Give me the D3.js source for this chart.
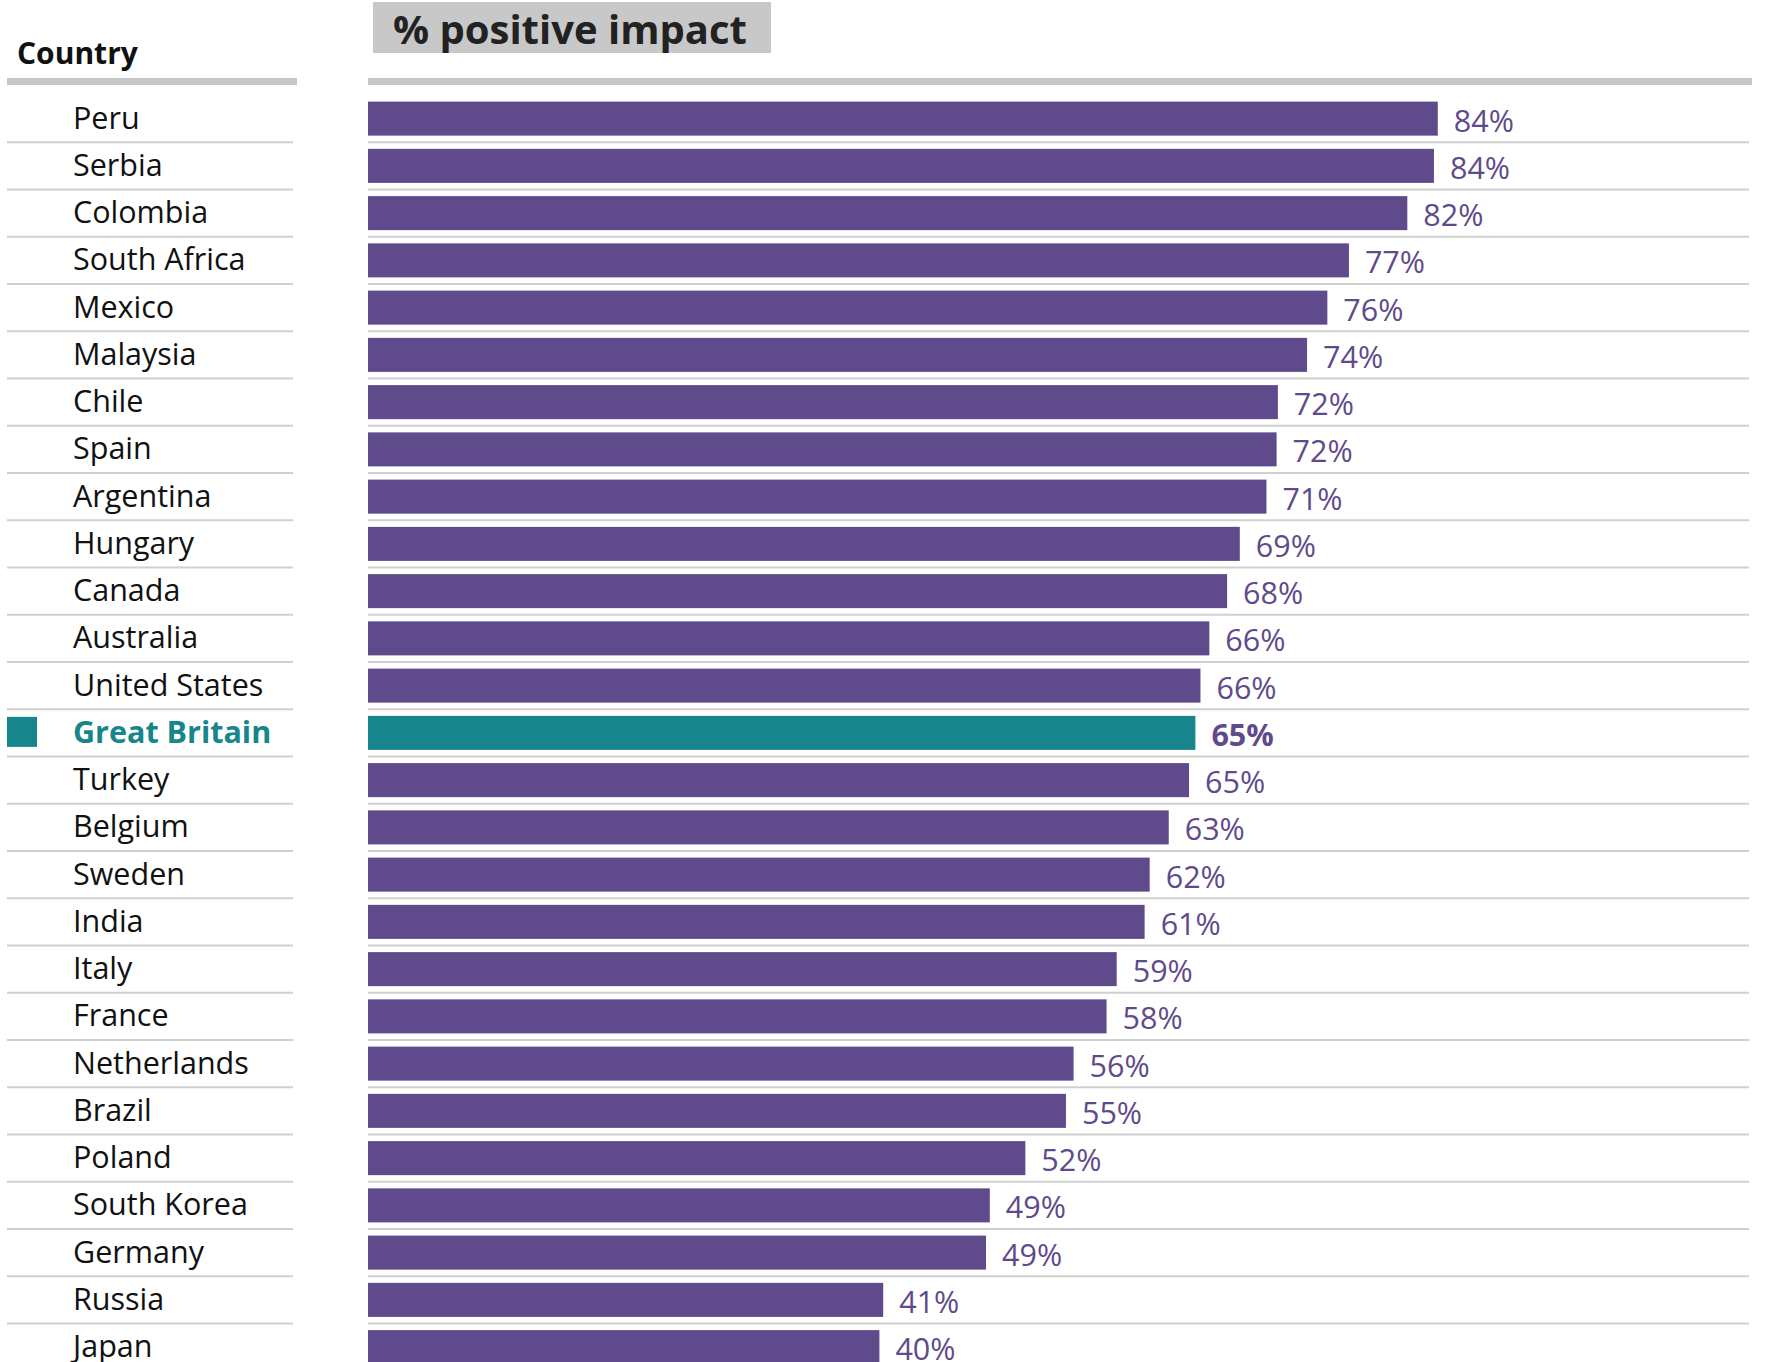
<!DOCTYPE html>
<html>
<head>
<meta charset="utf-8">
<script src="https://cdn.jsdelivr.net/npm/d3@7"></script>
<style>
  html, body { margin: 0; padding: 0; background: #fff; }
  svg { display: block; }
  text { font-family: "Open Sans", "Noto Sans", sans-serif; }
</style>
</head>
<body>
<svg id="chart" width="1769" height="1362"></svg>
<script>
const countries = ["Peru","Serbia","Colombia","South Africa","Mexico","Malaysia","Chile","Spain","Argentina","Hungary","Canada","Australia","United States","Great Britain","Turkey","Belgium","Sweden","India","Italy","France","Netherlands","Brazil","Poland","South Korea","Germany","Russia","Japan"];
const positiveImpact = [84.3,84.0,81.9,77.3,75.6,74.0,71.7,71.6,70.8,68.7,67.7,66.3,65.6,65.2,64.7,63.1,61.6,61.2,59.0,58.2,55.6,55.0,51.8,49.0,48.7,40.6,40.3];
const highlight = "Great Britain";
const columnHeader = "Country";
const title = "% positive impact";

const data = countries.map((c, i) => ({country: c, value: positiveImpact[i]}));

const purple = "#5f4b8b";
const teal = "#17858c";
const grey = "#c8c8c8";
const lineGrey = "#d0d0d0";

const svg = d3.select("#chart");

const x = d3.scaleLinear().domain([0, 100]).range([368, 1637]);
const y = d3.scaleBand().domain(countries).range([95, 95 + 27 * 47.25]).paddingInner(0.28).paddingOuter(0.14);
const bw = y.bandwidth();
const step = y.step();

// header
svg.append("text").attr("x", 17).attr("y", 64)
  .attr("font-size", 30).attr("font-weight", 700).attr("fill", "#111").text(columnHeader);
svg.append("rect").attr("x", 373).attr("y", 2).attr("width", 398).attr("height", 51).attr("fill", grey);
svg.append("text").attr("x", 393).attr("y", 44)
  .attr("font-size", 40).attr("font-weight", 700).attr("fill", "#222").text(title);
svg.append("rect").attr("x", 7).attr("y", 78).attr("width", 290).attr("height", 7).attr("fill", grey);
svg.append("rect").attr("x", 368).attr("y", 78).attr("width", 1384).attr("height", 7).attr("fill", grey);

// separators
const seps = svg.append("g");
data.slice(0, -1).forEach(d => {
  const yy = y(d.country) + bw + step * 0.14;
  seps.append("line").attr("x1", 7).attr("x2", 293).attr("y1", yy).attr("y2", yy)
    .attr("stroke", lineGrey).attr("stroke-width", 2);
  seps.append("line").attr("x1", 368).attr("x2", 1749).attr("y1", yy).attr("y2", yy)
    .attr("stroke", lineGrey).attr("stroke-width", 2);
});

// bars
svg.append("g").selectAll("rect").data(data).join("rect")
  .attr("x", x(0))
  .attr("y", d => y(d.country))
  .attr("width", d => x(d.value) - x(0))
  .attr("height", bw)
  .attr("fill", d => d.country === highlight ? teal : purple);

// value labels
svg.append("g").selectAll("text").data(data).join("text")
  .attr("x", d => x(d.value) + 16)
  .attr("y", d => y(d.country) + bw / 2 + 13)
  .attr("font-size", 30.5)
  .attr("font-weight", d => d.country === highlight ? 700 : 400)
  .attr("fill", purple)
  .text(d => Math.round(d.value) + "%");

// country labels
svg.append("g").selectAll("text").data(data).join("text")
  .attr("x", 73)
  .attr("y", d => y(d.country) + bw / 2 + 10)
  .attr("font-size", 30.5)
  .attr("font-weight", d => d.country === highlight ? 700 : 400)
  .attr("fill", d => d.country === highlight ? teal : "#111")
  .text(d => d.country);

// highlight marker
svg.append("rect").attr("x", 7).attr("y", y(highlight) + 1).attr("width", 30).attr("height", 30).attr("fill", teal);
</script>
</body>
</html>
